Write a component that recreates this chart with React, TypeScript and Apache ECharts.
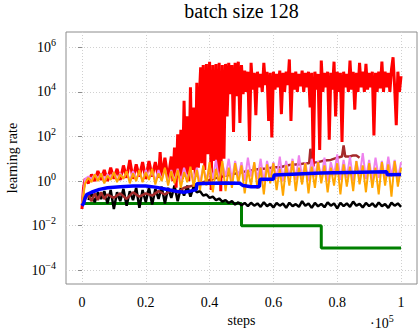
import React, { useEffect, useRef } from 'react';
import * as echarts from 'echarts';

// All y values are log10(learning rate).
const steps = [
  0, 0.01, 0.02, 0.03, 0.04, 0.05, 0.06, 0.07, 0.08, 0.09,
  0.1, 0.11, 0.12, 0.13, 0.14, 0.15, 0.16, 0.17, 0.18, 0.19,
  0.2, 0.21, 0.22, 0.23, 0.24, 0.25, 0.26, 0.27, 0.28, 0.29,
  0.3, 0.31, 0.32, 0.33, 0.34, 0.35, 0.36, 0.37, 0.38, 0.39,
  0.4, 0.41, 0.42, 0.43, 0.44, 0.45, 0.46, 0.47, 0.48, 0.49,
  0.5, 0.51, 0.52, 0.53, 0.54, 0.55, 0.56, 0.57, 0.58, 0.59,
  0.6, 0.61, 0.62, 0.63, 0.64, 0.65, 0.66, 0.67, 0.68, 0.69,
  0.7, 0.71, 0.72, 0.73, 0.74, 0.75, 0.76, 0.77, 0.78, 0.79,
  0.8, 0.81, 0.82, 0.83, 0.84, 0.85, 0.86, 0.87, 0.88, 0.89,
  0.9, 0.91, 0.92, 0.93, 0.94, 0.95, 0.96, 0.97, 0.98, 0.99,
  1.0,
];

const orangeLog = [
  -1.05, -0.1, 0.15, -0.05, 0.3, 0.0, 0.35, -0.1, 0.25, 0.05,
  0.4, -0.05, 0.3, 0.1, 0.45, -0.1, 0.35, 0.0, 0.5, -0.05,
  0.4, 0.05, 0.55, -0.15, 0.35, 0.0, 0.6, -0.2, 0.45, -0.1,
  0.5, -0.3, 0.4, -0.05, 0.65, -0.25, 0.5, -0.4, 0.7, -0.2,
  0.85, -0.5, 0.55, -0.15, 0.9, -0.45, 0.6, -0.3, 0.8, -0.1,
  0.7, -0.55, 0.5, -0.2, 0.85, -0.35, 0.6, -0.6, 0.75, -0.1,
  0.8, -0.4, 0.55, -0.65, 0.7, -0.2, 0.9, -0.45, 0.6, -0.15,
  0.8, -0.55, 0.65, -0.3, 0.85, -0.1, 0.7, -0.5, 0.6, -0.2,
  0.8, -0.6, 0.75, -0.25, 0.65, -0.45, 0.9, -0.15, 0.7, -0.5,
  0.8, -0.3, 0.6, -0.6, 0.85, -0.2, 0.75, -0.7, 0.9, -0.25,
  0.6,
];

const violetLog = [
  -1.05, 0.1, 0.2, 0.1, 0.3, 0.1, 0.35, 0.05, 0.3, 0.15,
  0.4, 0.0, 0.35, 0.1, 0.4, 0.05, 0.45, 0.1, 0.4, 0.0,
  0.5, 0.1, 0.45, 0.0, 0.5, 0.05, 0.55, -0.1, 0.5, 0.0,
  0.55, -0.05, 0.6, 0.1, 0.5, 0.0, 0.6, -0.1, 0.65, 0.05,
  0.7, 0.1, 0.95, 0.0, 0.8, 0.2, 1.0, 0.05, 0.9, 0.15,
  0.85, 0.0, 1.05, 0.2, 0.8, 0.1, 1.0, -0.05, 0.9, 0.25,
  0.85, 0.1, 1.1, 0.0, 0.9, 0.2, 1.0, 0.05, 1.15, 0.15,
  0.85, 0.0, 1.0, 0.2, 0.9, 0.1, 1.05, 0.0, 0.85, 0.25,
  1.2, 0.05, 0.95, 0.15, 1.1, 0.0, 0.9, 0.2, 1.25, 0.1,
  0.95, 0.0, 1.05, 0.15, 0.9, 0.05, 1.1, 0.2, 0.95, 0.1,
  0.85,
];

const blackLog = [
  null, null, -0.85, -0.55, -0.95, -0.5, -0.8, -0.45, -1.0, -0.4,
  -1.25, -0.5, -0.9, -0.35, -1.1, -0.45, -0.85, -0.3, -1.2, -0.4,
  -0.95, -0.3, -1.05, -0.35, -0.8, -0.25, -1.0, -0.3, -0.75, -0.2,
  -0.9, -0.3, -0.65, -0.2, -0.7, -0.25, -0.5, -0.45, -0.65, -0.6,
  -0.75, -0.7, -0.85, -0.78, -0.92, -0.85, -0.98, -0.9, -1.05, -0.95,
  -1.08, -0.98, -1.12, -0.97, -1.1, -1.0, -1.15, -0.95, -1.12, -1.02,
  -1.18, -0.98, -1.1, -1.0, -1.2, -0.97, -1.12, -1.03, -1.15, -0.9,
  -1.1, -1.0, -1.2, -0.98, -1.13, -1.02, -1.17, -0.95, -1.1, -1.0,
  -1.22, -0.97, -1.12, -1.0, -1.15, -0.92, -1.1, -1.02, -1.18, -0.98,
  -1.12, -1.0, -1.16, -0.96, -1.12, -1.03, -1.2, -0.97, -1.1, -1.0,
  -1.15,
];

const redLog = [
  [0, -1.25], [0.005, -0.3], [0.01, 0.1], [0.02, -0.1], [0.03, 0.3], [0.04, 0.0],
  [0.05, 0.45], [0.06, 0.05], [0.07, 0.5], [0.08, 0.0], [0.09, 0.6], [0.1, 0.1],
  [0.11, 0.55], [0.12, 0.05], [0.13, 0.7], [0.14, 0.15], [0.15, 0.95], [0.16, 0.1],
  [0.17, 0.75], [0.18, 0.2], [0.19, 0.85], [0.2, 0.1], [0.21, 0.9], [0.22, 0.2],
  [0.23, 0.85], [0.24, 0.15], [0.245, 1.3], [0.25, 0.2], [0.26, 1.05], [0.27, 0.1],
  [0.28, 1.1], [0.285, 0.0], [0.29, 1.5], [0.295, -0.3], [0.3, 2.1], [0.305, 0.2],
  [0.31, 2.3], [0.315, 0.1], [0.32, 3.6], [0.325, 0.3], [0.33, 2.9], [0.335, 0.0],
  [0.34, 4.2], [0.345, 0.5], [0.35, 3.3], [0.355, 0.2], [0.36, 4.4], [0.365, 0.6],
  [0.37, 4.45], [0.372, 5.1], [0.375, 0.8], [0.38, 5.2], [0.385, 0.5], [0.39, 5.25],
  [0.395, 1.2], [0.4, 5.35], [0.405, -0.4], [0.41, 5.2], [0.415, 0.9], [0.42, 5.25],
  [0.425, 0.3], [0.43, 5.3], [0.435, -0.45], [0.44, 5.2], [0.445, 1.0], [0.45, 5.25],
  [0.455, 2.9], [0.46, 5.3], [0.465, 3.9], [0.47, 5.2], [0.475, 2.2], [0.48, 5.3],
  [0.485, 3.8], [0.49, 5.35], [0.495, 2.6], [0.5, 5.2], [0.505, 3.9], [0.51, 4.95],
  [0.515, 4.0], [0.52, 4.9], [0.525, 1.8], [0.53, 5.3], [0.535, 4.1], [0.54, 4.85],
  [0.545, 2.95], [0.55, 4.9], [0.555, 4.2], [0.56, 4.8], [0.565, 4.0], [0.57, 5.3],
  [0.575, 4.3], [0.58, 4.9], [0.585, 2.7], [0.59, 4.85], [0.595, 1.95], [0.6, 4.9],
  [0.605, 4.1], [0.61, 4.8], [0.615, 4.2], [0.62, 4.95], [0.625, 3.0], [0.63, 4.85],
  [0.635, 4.0], [0.64, 4.9], [0.645, 4.3], [0.65, 5.45], [0.655, 2.7], [0.66, 4.85],
  [0.665, 4.1], [0.67, 4.9], [0.675, 4.0], [0.68, 4.8], [0.685, 4.25], [0.69, 4.95],
  [0.695, 4.0], [0.7, 4.85], [0.705, 4.2], [0.71, 4.9], [0.715, 3.3], [0.72, 4.85],
  [0.725, 0.65], [0.73, 4.9], [0.735, 4.1], [0.74, 4.8], [0.745, 1.4], [0.75, 5.4],
  [0.755, 4.0], [0.76, 4.85], [0.765, 4.2], [0.77, 4.9], [0.775, 1.85], [0.78, 4.85],
  [0.785, 4.1], [0.79, 5.35], [0.795, 2.9], [0.8, 4.9], [0.805, 4.0], [0.81, 4.85],
  [0.815, 1.75], [0.82, 4.9], [0.825, 4.2], [0.83, 4.8], [0.835, 4.0], [0.84, 5.4],
  [0.845, 4.1], [0.85, 4.9], [0.855, 3.2], [0.86, 4.85], [0.865, 4.0], [0.87, 5.3],
  [0.875, 4.2], [0.88, 4.9], [0.885, 4.0], [0.89, 5.25], [0.895, 4.1], [0.9, 4.85],
  [0.905, 4.2], [0.91, 4.9], [0.915, 2.05], [0.92, 4.85], [0.925, 4.0], [0.93, 4.9],
  [0.935, 4.15], [0.94, 5.35], [0.945, 4.0], [0.95, 4.9], [0.955, 4.2], [0.96, 4.85],
  [0.965, 4.0], [0.97, 5.0], [0.975, 5.55], [0.98, 4.2], [0.985, 2.5], [0.99, 4.9],
  [0.995, 4.0], [1.0, 4.7],
];

const brownLog = [
  [0, -1.1], [0.01, -0.8], [0.02, -0.6], [0.03, -0.9], [0.04, -0.55], [0.05, -0.85],
  [0.06, -0.5], [0.07, -0.8], [0.08, -0.6], [0.1, -0.75], [0.12, -0.55], [0.14, -0.8],
  [0.16, -0.5], [0.18, -0.7], [0.2, -0.55], [0.22, -0.65], [0.24, -0.45], [0.26, -0.6],
  [0.28, -0.4], [0.3, -0.5], [0.32, -0.3], [0.35, -0.2], [0.38, -0.05], [0.41, 0.1],
  [0.44, 0.2], [0.47, 0.3], [0.5, 0.4], [0.535, 0.49], [0.56, 0.55], [0.58, 0.55],
  [0.6, 0.62], [0.62, 0.62], [0.65, 0.72], [0.68, 0.75], [0.7, 0.8], [0.712, 0.8],
  [0.716, 1.45], [0.72, 0.82], [0.74, 0.85], [0.76, 0.92], [0.78, 0.95], [0.8, 1.05],
  [0.815, 1.1], [0.82, 1.6], [0.825, 1.1], [0.84, 1.1], [0.85, 1.15], [0.86, 1.15],
  [0.87, 1.05],
];

const blueLog = [
  [0, -1.1], [0.005, -1.0], [0.01, -0.75], [0.015, -0.6], [0.03, -0.5], [0.055, -0.37],
  [0.08, -0.3], [0.12, -0.25], [0.16, -0.22], [0.2, -0.22], [0.23, -0.27], [0.26, -0.35],
  [0.3, -0.47], [0.32, -0.5], [0.34, -0.45], [0.358, -0.38], [0.36, -0.12], [0.4, -0.1],
  [0.45, -0.08], [0.495, -0.1], [0.505, -0.2], [0.53, -0.25], [0.556, -0.25], [0.558, 0.08],
  [0.6, 0.08], [0.602, 0.27], [0.75, 0.36], [0.955, 0.42], [0.957, 0.28], [1.0, 0.3],
];

const greenLog = [
  [0, -1], [0.5, -1], [0.5, -2], [0.75, -2], [0.75, -3], [1.0, -3],
];

const titleText = 'batch size 128';
const xName = 'steps';
const yName = 'learning rate';

const SERIF = '"Liberation Serif", "DejaVu Serif", serif';

export default function App() {
  const ref = useRef<HTMLDivElement>(null);
  useEffect(() => {
    document.body.style.margin = '0';
    const chart = echarts.init(ref.current as HTMLDivElement, null, {
      renderer: 'svg',
      width: 418,
      height: 330,
    });
    const onGrid = (ys: (number | null)[]) =>
      steps.map((x, i) => [x, ys[i]]).filter((p) => p[1] !== null);
    const line = (name: string, color: string, width: number, data: any[]) => ({
      type: 'line',
      name,
      data,
      showSymbol: false,
      symbol: 'none',
      silent: true,
      lineStyle: { color, width },
      itemStyle: { color },
      emphasis: { disabled: true },
    });
    chart.setOption({
      animation: false,
      backgroundColor: '#fff',
      grid: {
        left: 66,
        right: 1,
        top: 32,
        bottom: 46,
        show: true,
        borderColor: '#8c8c8c',
        borderWidth: 1,
        backgroundColor: 'transparent',
        outerBoundsMode: 'none',
      },
      xAxis: {
        type: 'value',
        min: -0.05,
        max: 1.05,
        splitNumber: 5,
        name: xName,
        nameLocation: 'middle',
        nameGap: 25,
        nameTextStyle: { fontFamily: SERIF, fontSize: 14, color: '#000' },
        axisLine: { show: false },
        axisTick: { show: false },
        axisLabel: {
          showMinLabel: false,
          showMaxLabel: false,
          margin: 11,
          fontFamily: SERIF,
          fontSize: 14,
          color: '#000',
          formatter: (v: number) => String(Math.round(v * 100) / 100),
        },
        splitLine: {
          show: true,
          showMinLine: false,
          showMaxLine: false,
          lineStyle: { color: '#d0d0d0', width: 1, type: [1, 2] },
        },
      },
      yAxis: {
        type: 'value',
        min: -4.61,
        max: 6.68,
        splitNumber: 5,
        name: yName,
        nameLocation: 'middle',
        nameGap: 47,
        nameTextStyle: { fontFamily: SERIF, fontSize: 14, color: '#000' },
        axisLine: { show: false },
        axisTick: { show: true, length: 4, lineStyle: { color: '#8c8c8c' } },
        axisLabel: {
          showMinLabel: false,
          showMaxLabel: false,
          margin: 10,
          formatter: (v: number) => {
            const n = Math.round(v);
            return `{b|10}{s|${n < 0 ? '\u2212' + -n : n}}`;
          },
          rich: {
            b: { fontFamily: SERIF, fontSize: 14, lineHeight: 20, color: '#000' },
            s: { fontFamily: SERIF, fontSize: 10, lineHeight: 10, verticalAlign: 'top', color: '#000' },
          },
        },
        splitLine: {
          show: true,
          showMinLine: false,
          showMaxLine: false,
          lineStyle: { color: '#d0d0d0', width: 1, type: [1, 2] },
        },
      },
      graphic: [
        {
          type: 'text',
          x: 241.5,
          y: 11,
          silent: true,
          style: {
            text: titleText,
            fontFamily: SERIF,
            fontSize: 20,
            fill: '#000',
            align: 'center',
            verticalAlign: 'middle',
          },
        },
        {
          type: 'text',
          x: 370,
          y: 323,
          silent: true,
          style: {
            text: '{b|\u00b710}{s|5}',
            verticalAlign: 'middle',
            rich: {
              b: { fontFamily: SERIF, fontSize: 14, lineHeight: 20, fill: '#000', color: '#000' },
              s: { fontFamily: SERIF, fontSize: 10, lineHeight: 10, verticalAlign: 'top', fill: '#000', color: '#000' },
            },
          },
        },
      ],
      series: [
        line('green', '#008000', 3, greenLog),
        line('black', '#000000', 2.5, onGrid(blackLog)),
        line('brown', '#a52a2a', 2.5, brownLog),
        line('red', '#ff0000', 3, redLog),
        line('violet', '#ee82ee', 2, onGrid(violetLog)),
        line('orange', '#ffa500', 2, onGrid(orangeLog)),
        line('blue', '#0000ff', 3.5, blueLog),
      ],
    });
    return () => chart.dispose();
  }, []);
  return (
    <div
      ref={ref}
      style={{ position: 'absolute', left: 0, top: 0, width: 418, height: 330 }}
    />
  );
}
